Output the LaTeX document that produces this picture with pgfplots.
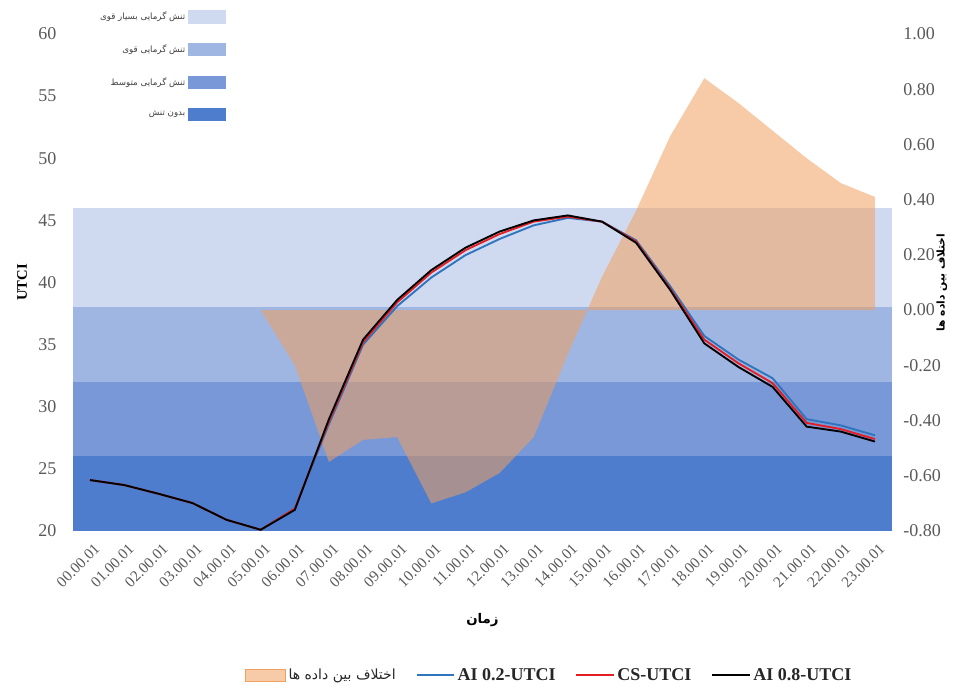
\documentclass[border=0pt]{standalone}
\usepackage{pgfplots}
\pgfplotsset{compat=1.18}
\usepackage{pgfplotstable}
\usepackage{fontspec}
\setmainfont{Liberation Serif}
\newfontfamily\arabicfont[Script=Arabic]{DejaVu Sans}
\TeXXeTstate=1
\definecolor{bandA}{RGB}{207,218,240}
\definecolor{bandB}{RGB}{160,182,226}
\definecolor{bandC}{RGB}{120,152,215}
\definecolor{bandD}{RGB}{79,125,205}
\definecolor{diffc}{RGB}{240,160,96}
\definecolor{bluel}{RGB}{46,117,190}
\definecolor{redl}{RGB}{228,30,36}
\definecolor{tickgray}{RGB}{89,89,89}

\pgfplotstableread{
h black red blue
0 24.1 24.1 24.1
1 23.7 23.7 23.7
2 23.0 23.0 23.0
3 22.25 22.25 22.25
4 20.9 20.9 20.9
5 20.1 20.1 20.1
6 21.7 21.8 21.8
7 29.0 28.8 28.6
8 35.4 35.2 35.0
9 38.6 38.4 38.1
10 41.0 40.8 40.4
11 42.8 42.6 42.2
12 44.1 43.9 43.5
13 45.0 44.9 44.6
14 45.4 45.3 45.2
15 44.9 44.9 44.9
16 43.2 43.3 43.4
17 39.4 39.5 39.7
18 35.1 35.4 35.7
19 33.2 33.5 33.8
20 31.6 31.9 32.3
21 28.4 28.7 29.0
22 28.0 28.2 28.5
23 27.2 27.4 27.7
}\utci

\pgfplotstableread{
h diff
5 0
6 -0.20
7 -0.55
8 -0.47
9 -0.46
10 -0.70
11 -0.66
12 -0.59
13 -0.46
14 -0.16
15 0.12
16 0.36
17 0.63
18 0.84
19 0.75
20 0.65
21 0.55
22 0.46
23 0.41
23 0
}\diffdata

\pgfplotsset{
  base/.style={
    scale only axis,
    width=614.25pt, height=372.75pt,
    xmin=-0.5, xmax=23.5,
    axis line style={draw=none},
    tick style={draw=none},
    /pgf/number format/assume math mode=true,
  }
}

\begin{document}
\begin{tikzpicture}
\useasboundingbox (-54.75pt,-117pt) rectangle (663.75pt,398.25pt);
% axis 1: bands, left y axis, x ticks
\begin{axis}[base,
  ymin=20, ymax=60,
  ytick={20,25,...,60},
  xtick={0,...,23},
  xticklabels={00.00.01,01.00.01,02.00.01,03.00.01,04.00.01,05.00.01,06.00.01,07.00.01,08.00.01,09.00.01,10.00.01,11.00.01,12.00.01,13.00.01,14.00.01,15.00.01,16.00.01,17.00.01,18.00.01,19.00.01,20.00.01,21.00.01,22.00.01,23.00.01},
  xticklabel style={rotate=45, anchor=east, font=\fontsize{11.5}{13}\selectfont, text=tickgray, yshift=-12pt, xshift=-1pt},
  yticklabel style={font=\fontsize{13.5}{16}\selectfont, text=tickgray, xshift=-9pt},
  ylabel={UTCI},
  every axis y label/.style={at={(axis description cs:-0.0623,0.5)}, anchor=center, rotate=90, font=\bfseries\fontsize{11}{13}\selectfont},
  xlabel={\arabicfont\bfseries\beginR زمان\endR},
  every axis x label/.style={at={(axis description cs:0.5,-0.179)}, anchor=center, font=\fontsize{10}{12}\selectfont},
  legend style={at={(axis description cs:0.187,1.05)}, anchor=north east, draw=none, fill=none,
    row sep=13.3pt, font=\fontsize{6.5}{8}\selectfont, text=black!75, inner sep=0pt},
  legend cell align=right,
  legend plot pos=right,
  legend image code/.code={\fill[#1] (0pt,-4.9pt) rectangle (28.5pt,4.9pt);},
]
\addplot[fill=bandA, draw=none] coordinates {(-0.5,38) (23.5,38) (23.5,46) (-0.5,46)};
\addlegendentry{\arabicfont\beginR تنش گرمایی بسیار قوی\endR}
\addplot[fill=bandB, draw=none] coordinates {(-0.5,32) (23.5,32) (23.5,38) (-0.5,38)};
\addlegendentry{\arabicfont\beginR تنش گرمایی قوی\endR}
\addplot[fill=bandC, draw=none] coordinates {(-0.5,26) (23.5,26) (23.5,32) (-0.5,32)};
\addlegendentry{\arabicfont\beginR تنش گرمایی متوسط\endR}
\addplot[fill=bandD, draw=none] coordinates {(-0.5,20) (23.5,20) (23.5,26) (-0.5,26)};
\addlegendentry{\arabicfont\beginR بدون تنش\endR}
\end{axis}
% axis 2: difference area, right y axis
\begin{axis}[base,
  axis x line=none,
  axis y line*=right,
  ymin=-0.8, ymax=1.0,
  ytick={-0.8,-0.6,-0.4,-0.2,0,0.2,0.4,0.6,0.8,1.0},
  yticklabel style={font=\fontsize{13.5}{16}\selectfont, text=tickgray, xshift=5pt,
    /pgf/number format/.cd, fixed, fixed zerofill, precision=2},
  ylabel={\arabicfont\bfseries\beginR اختلاف بین داده ها\endR},
  every axis y label/.style={at={(axis description cs:1.061,0.5)}, anchor=center, rotate=90, font=\fontsize{8}{10}\selectfont},
]
\addplot[fill=diffc, fill opacity=0.55, draw=none] table[x=h, y=diff] {\diffdata};
\end{axis}
% axis 3: lines + bottom legend
\begin{axis}[base,
  hide axis,
  ymin=20, ymax=60,
  legend style={at={(axis description cs:0.582,-0.29)}, anchor=center, draw=none, fill=none,
    font=\bfseries\fontsize{13.5}{15}\selectfont, text=black!85},
  legend columns=4,
  legend cell align=left,
  legend image code/.code={\draw[#1] (0pt,0pt) -- (28pt,0pt);},
  /tikz/every even column/.append style={column sep=13pt},
]
\addlegendimage{legend image code/.code={\fill[diffc, fill opacity=0.55] (0pt,-4.5pt) rectangle (30pt,4.5pt);}}
\addlegendentry{\arabicfont\mdseries\fontsize{10.5}{12}\selectfont\beginR اختلاف بین داده ها\endR}
\addplot[color=bluel, line width=1.4pt] table[x=h, y=blue] {\utci};
\addlegendentry{AI 0.2-UTCI}
\addplot[color=redl, line width=1.4pt] table[x=h, y=red] {\utci};
\addlegendentry{CS-UTCI}
\addplot[color=black, line width=1.4pt] table[x=h, y=black] {\utci};
\addlegendentry{AI 0.8-UTCI}
\end{axis}
\end{tikzpicture}
\end{document}
